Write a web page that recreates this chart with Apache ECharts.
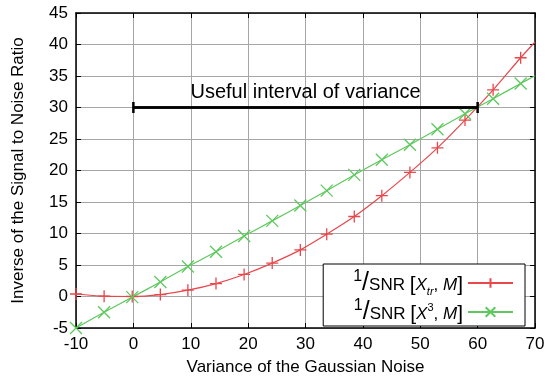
<!DOCTYPE html>
<html>
<head>
<meta charset="utf-8">
<script src="https://cdn.jsdelivr.net/npm/echarts@6/dist/echarts.min.js"></script>
<style>
  html, body { margin: 0; padding: 0; background: #fff; }
  #main { width: 548px; height: 381px; }
</style>
</head>
<body>
<div id="main"></div>
<script>
// values
const xMarks = [-10, -5.1, -0.2, 4.7, 9.5, 14.4, 19.3, 24.2, 29.1, 33.7, 38.5, 43.3, 48.2, 53.0, 57.8, 62.7, 67.5];
const redY = [0.4, 0.05, 0, 0.3, 1.0, 2.05, 3.5, 5.3, 7.4, 9.9, 12.7, 16.0, 19.7, 23.6, 28.0, 32.8, 37.9];
const greenY = [-5, -2.5, -0.1, 2.3, 4.75, 7.1, 9.6, 12.0, 14.45, 16.8, 19.3, 21.7, 24.1, 26.55, 29.0, 31.4, 33.8];
const xEnd = 70;
const redEnd = 40.4;
const greenEnd = 35.05;
const intervalX = [0, 60];
const intervalY = 30;
const intervalText = 'Useful interval of variance';
const seriesNames = ['tr', 'cube'];

const RED = '#e8474b';
const GREEN = '#5ec85e';
const FONT = '"Liberation Sans", Arial, sans-serif';

function buildData(ys, yEnd) {
   let d = xMarks.map(function(x, i) { return [x, ys[i]]; });
   d.push({ value: [xEnd, yEnd], symbol: 'none' });
   return d;
}

const plusPath = 'path://M0,5L10,5M5,0L5,10';
const crossPath = 'path://M0,0L10,10M10,0L0,10';

const rich = {
   one: { fontSize: 16, fontFamily: FONT, verticalAlign: 'top', lineHeight: 28, padding: [0, 0, 6, 0] },
   sl: { fontSize: 25, fontFamily: FONT, lineHeight: 28 },
   t: { fontSize: 17, fontFamily: FONT, lineHeight: 28, verticalAlign: 'bottom', padding: [0, 0, 3, 0] },
   b: { fontSize: 21, fontFamily: FONT, fontWeight: 'lighter', lineHeight: 28, verticalAlign: 'bottom', padding: [0, 0, 1, 0] },
   i: { fontSize: 17, fontFamily: FONT, fontStyle: 'italic', lineHeight: 28, verticalAlign: 'bottom', padding: [0, 0, 3, 0] },
   sub: { fontSize: 11, fontFamily: FONT, fontStyle: 'italic', lineHeight: 28, verticalAlign: 'bottom', padding: [0, 0, 0, 0] },
   sup: { fontSize: 11, fontFamily: FONT, lineHeight: 28, verticalAlign: 'top', padding: [4, 0, 0, 0] }
};

let myChart = echarts.init(document.getElementById('main'));

let option = {
   animation: false,
   backgroundColor: '#fff',
   textStyle: { fontFamily: FONT },
   grid: { left: 76, right: 13, top: 13, bottom: 50 },
   legend: {
      orient: 'vertical',
      right: 23,
      top: 264,
      align: 'right',
      itemWidth: 45,
      itemHeight: 12,
      itemGap: 1,
      padding: [5, 11, 0, 30],
      borderColor: '#000',
      borderWidth: 1,
      borderRadius: 0,
      backgroundColor: '#fff',
      data: seriesNames,
      formatter: function(name) {
         if (name === 'tr') {
            return '{one|1}{sl|/}{t|SNR }{b|[}{i|X}{sub|tr}{t|, }{i|M}{b|]}';
         }
         return '{one|1}{sl|/}{t|SNR }{b|[}{i|X}{sup|3}{t|, }{i|M}{b|]}';
      },
      textStyle: { color: '#000', rich: rich }
   },
   xAxis: [
      {
         type: 'value', min: -10, max: 70, interval: 10,
         name: 'Variance of the Gaussian Noise',
         nameLocation: 'middle', nameGap: 31,
         nameTextStyle: { fontSize: 17, color: '#000' },
         axisLine: { onZero: false, lineStyle: { color: '#000', width: 1.5 } },
         axisTick: { inside: true, length: 5, lineStyle: { color: '#000' } },
         axisLabel: { fontSize: 17, color: '#000', margin: 8 },
         splitLine: { show: true, lineStyle: { color: '#a6a6a6', width: 1 } }
      },
      {
         type: 'value', min: -10, max: 70, interval: 10, position: 'top',
         axisLine: { onZero: false, lineStyle: { color: '#000', width: 1.5 } },
         axisTick: { inside: true, length: 5, lineStyle: { color: '#000' } },
         axisLabel: { show: false },
         splitLine: { show: false }
      }
   ],
   yAxis: [
      {
         type: 'value', min: -5, max: 45, interval: 5,
         name: 'Inverse of the Signal to Noise Ratio',
         nameLocation: 'middle', nameGap: 49,
         nameTextStyle: { fontSize: 17, color: '#000' },
         axisLine: { show: true, onZero: false, lineStyle: { color: '#000', width: 1.5 } },
         axisTick: { show: true, inside: true, length: 5, lineStyle: { color: '#000' } },
         axisLabel: { fontSize: 17, color: '#000', margin: 8 },
         splitLine: { show: true, lineStyle: { color: '#a6a6a6', width: 1 } }
      },
      {
         type: 'value', min: -5, max: 45, interval: 5, position: 'right',
         axisLine: { show: true, onZero: false, lineStyle: { color: '#000', width: 1.5 } },
         axisTick: { show: true, inside: true, length: 5, lineStyle: { color: '#000' } },
         axisLabel: { show: false },
         splitLine: { show: false }
      }
   ],
   series: [
      {
         name: 'tr',
         type: 'line',
         smooth: 0.3,
         data: buildData(redY, redEnd),
         symbol: plusPath,
         symbolSize: 12,
         showAllSymbol: true,
         itemStyle: { color: RED, borderColor: RED, borderWidth: 1.3 },
         lineStyle: { color: RED, width: 1.2 },
         z: 3
      },
      {
         name: 'cube',
         type: 'line',
         smooth: 0.3,
         data: buildData(greenY, greenEnd),
         symbol: crossPath,
         symbolSize: 12,
         showAllSymbol: true,
         itemStyle: { color: GREEN, borderColor: GREEN, borderWidth: 1.3 },
         lineStyle: { color: GREEN, width: 1.2 },
         z: 3
      },
      {
         name: 'interval',
         type: 'line',
         data: intervalX.map(function(x) { return [x, intervalY]; }),
         symbol: 'rect',
         symbolSize: [2.5, 11],
         itemStyle: { color: '#000' },
         lineStyle: { color: '#000', width: 2.5 },
         z: 4,
         markLine: {
            silent: true,
            symbol: ['none', 'none'],
            lineStyle: { color: '#000', width: 2.5, type: 'solid' },
            label: {
               show: true,
               position: 'insideMiddleTop',
               formatter: intervalText,
               fontSize: 20,
               color: '#000',
               distance: 5
            },
            data: [[{ coord: [intervalX[0], intervalY] }, { coord: [intervalX[1], intervalY] }]]
         }
      }
   ]
};

myChart.setOption(option);
</script>
</body>
</html>
